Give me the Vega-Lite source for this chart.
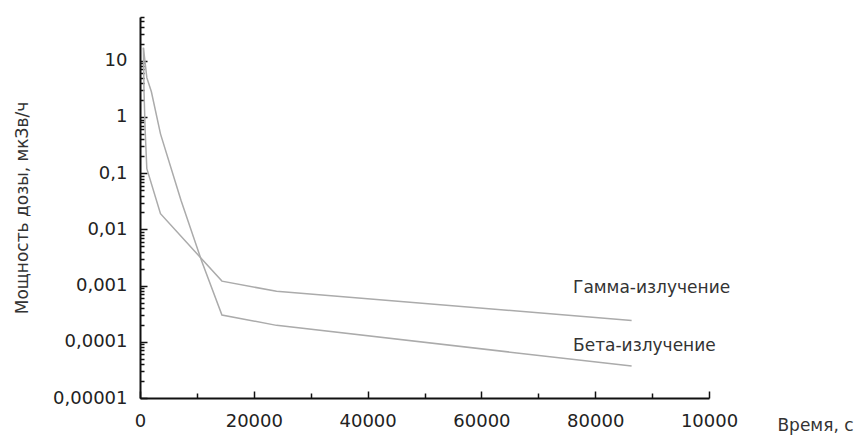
{
  "$schema": "https://vega.github.io/schema/vega-lite/v6.json",
  "width": 569,
  "height": 381,
  "autosize": "none",
  "padding": {"left": 140, "top": 17, "right": 151, "bottom": 38},
  "background": "white",
  "config": {
    "view": {"stroke": null},
    "font": "DejaVu Sans",
    "axis": {
      "domainColor": "#111",
      "domainWidth": 2,
      "tickColor": "#111",
      "tickWidth": 1.5,
      "grid": false,
      "labelFont": "DejaVu Sans",
      "labelFontSize": 18,
      "labelColor": "#222",
      "titleFont": "DejaVu Sans",
      "titleFontSize": 17,
      "titleFontWeight": "normal",
      "titleColor": "#333",
      "labelOverlap": false,
      "labelBound": false,
      "labelFlush": false
    }
  },
  "datasets": {
    "series": [
      {"series": "gamma", "t": 600, "rate": 17},
      {"series": "gamma", "t": 700, "rate": 3},
      {"series": "gamma", "t": 900, "rate": 0.6},
      {"series": "gamma", "t": 1200, "rate": 0.12},
      {"series": "gamma", "t": 3600, "rate": 0.019},
      {"series": "gamma", "t": 14400, "rate": 0.0012},
      {"series": "gamma", "t": 24000, "rate": 0.00079},
      {"series": "gamma", "t": 86400, "rate": 0.00024},
      {"series": "beta", "t": 600, "rate": 17},
      {"series": "beta", "t": 1200, "rate": 5},
      {"series": "beta", "t": 2000, "rate": 2.8},
      {"series": "beta", "t": 3600, "rate": 0.5},
      {"series": "beta", "t": 7200, "rate": 0.033},
      {"series": "beta", "t": 10800, "rate": 0.0028},
      {"series": "beta", "t": 14400, "rate": 0.0003},
      {"series": "beta", "t": 24000, "rate": 0.000196},
      {"series": "beta", "t": 86400, "rate": 0.000037}
    ],
    "labels": [
      {"text": "Гамма-излучение", "t": 76100, "rate": 0.00092},
      {"text": "Бета-излучение", "t": 76100, "rate": 0.000083}
    ]
  },
  "layer": [
    {
      "data": {"name": "series"},
      "mark": {"type": "line", "strokeWidth": 1.5, "color": "#ababab"},
      "encoding": {
        "x": {
          "field": "t",
          "type": "quantitative",
          "scale": {"domain": [0, 100000], "nice": false},
          "axis": {
            "title": "Время, с",
            "titleX": 675,
            "titleY": 27,
            "titleAlign": "center",
            "titleBaseline": "middle",
            "titleAngle": 0,
            "values": [0, 10000, 20000, 30000, 40000, 50000, 60000, 70000, 80000, 90000, 100000],
            "labelExpr": "datum.value % 20000 == 0 ? (datum.value == 100000 ? '10000' : format(datum.value, 'd')) : ''",
            "tickSize": {"condition": {"test": "datum.value % 20000 == 0", "value": -7}, "value": -5},
            "labelPadding": 21
          }
        },
        "y": {
          "field": "rate",
          "type": "quantitative",
          "scale": {"type": "log", "domain": [0.00001, 60], "nice": false},
          "axis": {
            "title": "Мощность дозы, мкЗв/ч",
            "titleX": -109,
            "values": [0.00001, 0.00002, 0.00003, 0.00004, 0.00005, 0.00006, 0.00007, 0.00008, 0.00009,
                       0.0001, 0.0002, 0.0003, 0.0004, 0.0005, 0.0006, 0.0007, 0.0008, 0.0009,
                       0.001, 0.002, 0.003, 0.004, 0.005, 0.006, 0.007, 0.008, 0.009,
                       0.01, 0.02, 0.03, 0.04, 0.05, 0.06, 0.07, 0.08, 0.09,
                       0.1, 0.2, 0.3, 0.4, 0.5, 0.6, 0.7, 0.8, 0.9,
                       1, 2, 3, 4, 5, 6, 7, 8, 9,
                       10, 20, 30, 40, 50, 60],
            "labelExpr": "abs(log(datum.value)/LN10 - round(log(datum.value)/LN10)) < 0.01 ? replace(format(datum.value, '.5~f'), '.', ',') : ''",
            "tickSize": {"condition": {"test": "abs(log(datum.value)/LN10 - round(log(datum.value)/LN10)) < 0.01", "value": -7}, "value": -4},
            "labelPadding": 20
          }
        },
        "detail": {"field": "series"}
      }
    },
    {
      "data": {"name": "labels"},
      "mark": {"type": "text", "align": "left", "baseline": "middle", "fontSize": 17, "color": "#333", "font": "DejaVu Sans"},
      "encoding": {
        "x": {"field": "t", "type": "quantitative"},
        "y": {"field": "rate", "type": "quantitative"},
        "text": {"field": "text"}
      }
    }
  ]
}
